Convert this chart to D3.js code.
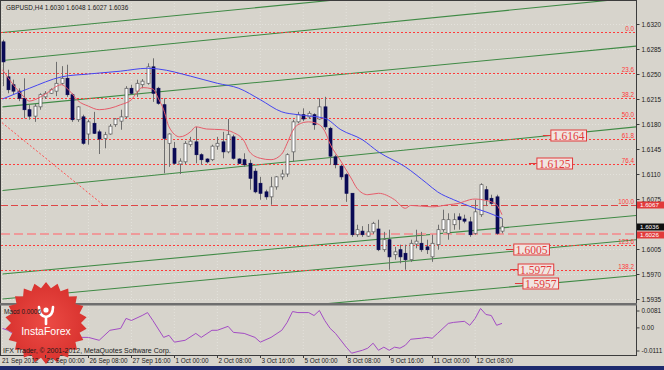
<!DOCTYPE html>
<html><head><meta charset="utf-8">
<script src="https://cdn.jsdelivr.net/npm/d3@7"></script>
<style>body{margin:0;background:#d7d4cc}svg{display:block}</style>
</head><body><svg id="c" width="664" height="370"></svg>
<script>
// ---------- DATA ----------
const symbolTitle = "GBPUSD,H4 1.6030 1.6048 1.6027 1.6036";
const open = [1.6295,1.6246,1.6235,1.6226,1.6216,1.6200,1.6191,1.6204,1.6218,1.6223,
1.6226,1.6237,1.6244,1.6221,1.6186,1.6190,1.6166,1.6181,1.6169,1.6160,
1.6166,1.6179,1.6184,1.6190,1.6230,1.6226,1.6235,1.6237,1.6260,1.6230,
1.6207,1.6153,1.6146,1.6124,1.6127,1.6151,1.6155,1.6137,1.6131,1.6130,
1.6149,1.6155,1.6141,1.6162,1.6131,1.6130,1.6125,1.6114,1.6097,1.6085,
1.6078,1.6092,1.6106,1.6110,1.6141,1.6183,1.6193,1.6190,1.6193,1.6187,
1.6204,1.6174,1.6134,1.6121,1.6109,1.6083,1.6025,1.6030,1.6023,1.6029,
1.6033,1.6004,1.6018,1.5997,1.6004,1.5999,1.5990,1.6012,1.6013,1.6008,
1.5994,1.6011,1.6032,1.6027,1.6039,1.6050,1.6047,1.6043,1.6027,1.6053,
1.6088,1.6076,1.6078,1.6030];
const high = [1.6298,1.6256,1.6242,1.6230,1.6244,1.6207,1.6208,1.6223,1.6226,1.6230,
1.6267,1.6261,1.6263,1.6223,1.6205,1.6193,1.6186,1.6197,1.6172,1.6169,
1.6180,1.6188,1.6200,1.6233,1.6235,1.6242,1.6243,1.6265,1.6272,1.6232,
1.6216,1.6167,1.6155,1.6132,1.6156,1.6162,1.6176,1.6139,1.6132,1.6151,
1.6162,1.6169,1.6187,1.6165,1.6132,1.6139,1.6130,1.6118,1.6106,1.6088,
1.6106,1.6107,1.6116,1.6139,1.6186,1.6197,1.6202,1.6198,1.6195,1.6216,
1.6218,1.6176,1.6137,1.6123,1.6111,1.6083,1.6039,1.6037,1.6040,1.6043,
1.6046,1.6029,1.6032,1.6008,1.6011,1.6011,1.6018,1.6032,1.6029,1.6018,
1.6025,1.6039,1.6060,1.6055,1.6055,1.6055,1.6053,1.6050,1.6074,1.6097,
1.6093,1.6081,1.6081,1.6048];
const low = [1.6233,1.6223,1.6221,1.6212,1.6188,1.6186,1.6183,1.6200,1.6215,1.6222,
1.6219,1.6235,1.6218,1.6183,1.6183,1.6151,1.6151,1.6166,1.6138,1.6146,
1.6165,1.6176,1.6172,1.6188,1.6221,1.6218,1.6230,1.6235,1.6211,1.6207,
1.6111,1.6120,1.6123,1.6110,1.6124,1.6148,1.6125,1.6123,1.6125,1.6128,
1.6144,1.6132,1.6139,1.6130,1.6124,1.6120,1.6088,1.6083,1.6074,1.6074,
1.6067,1.6088,1.6102,1.6106,1.6127,1.6181,1.6184,1.6187,1.6172,1.6186,
1.6172,1.6123,1.6118,1.6102,1.6071,1.6022,1.6022,1.6022,1.6022,1.6026,
1.6002,1.6001,1.5976,1.5990,1.5985,1.5976,1.5987,1.6006,1.6001,1.5998,
1.5987,1.6004,1.6029,1.6018,1.6032,1.6032,1.6041,1.6022,1.6025,1.6050,
1.6065,1.6067,1.6025,1.6027];
const close = [1.6267,1.6228,1.6226,1.6216,1.6200,1.6191,1.6205,1.6221,1.6223,1.6228,
1.6237,1.6244,1.6221,1.6186,1.6204,1.6153,1.6183,1.6167,1.6159,1.6165,
1.6177,1.6187,1.6190,1.6230,1.6223,1.6237,1.6240,1.6260,1.6223,1.6209,
1.6160,1.6166,1.6125,1.6128,1.6153,1.6156,1.6137,1.6130,1.6127,1.6149,
1.6153,1.6141,1.6165,1.6132,1.6125,1.6123,1.6104,1.6085,1.6083,1.6078,
1.6092,1.6106,1.6110,1.6137,1.6183,1.6193,1.6187,1.6195,1.6179,1.6204,
1.6176,1.6135,1.6123,1.6106,1.6083,1.6025,1.6032,1.6025,1.6029,1.6041,
1.6004,1.6018,1.5994,1.6001,1.5994,1.5990,1.6013,1.6016,1.6004,1.6004,
1.6013,1.6032,1.6046,1.6046,1.6046,1.6046,1.6044,1.6025,1.6057,1.6095,
1.6074,1.6069,1.6027,1.6036];

const slowMaBar = [0,5,11,16,22,27,29,35,40,44,48,52,55,60,63,67,70,75,79,81,84,88,90,93];
const slowMaVal = [1.6215,1.6230,1.6246,1.6250,1.6254,1.6258,1.6257,1.6247,1.6237,1.6230,1.6214,1.6197,1.6193,1.6188,1.6172,1.6158,1.6141,1.6120,1.6097,1.6085,1.6074,1.6062,1.6057,1.6048];

const fastMaBar = [0,2,4,5,6,8,11,12,13,14,16,18,20,22,24,25,26,28,29,30,31,33,35,36,38,41,43,45,46,48,50,52,53,54,55,57,59,60,61,63,65,66,68,70,73,75,76,80,83,85,87,88,90,91,92,93];
const fastMaVal = [1.6256,1.6235,1.6218,1.6212,1.6214,1.6222,1.6235,1.6230,1.6222,1.6213,1.6205,1.6200,1.6202,1.6207,1.6214,1.6224,1.6231,1.6229,1.6216,1.6200,1.6176,1.6162,1.6169,1.6176,1.6173,1.6172,1.6168,1.6156,1.6141,1.6132,1.6130,1.6138,1.6153,1.6170,1.6179,1.6183,1.6179,1.6170,1.6152,1.6128,1.6103,1.6090,1.6081,1.6083,1.6074,1.6062,1.6066,1.6064,1.6067,1.6069,1.6074,1.6075,1.6073,1.6071,1.6067,1.6053];

const oscBar = [0,1,3,6,9,12,14,16,18,20,22,23,24,26,27,28,30,31,32,34,36,37,39,40,42,43,45,47,48,50,52,53,54,55,57,58,59,60,61,62,64,65,67,68,69,70,71,72,73,74,75,76,78,79,80,81,83,84,86,87,88,89,90,91,92,93];
const oscVal = [-0.0005,-0.0014,-0.0048,-0.0060,-0.0055,-0.0045,-0.0048,-0.0048,-0.0062,-0.0014,-0.0005,0.0043,0.0033,0.0057,0.0071,0.0033,-0.0048,-0.0038,-0.0071,-0.0062,-0.0029,-0.0048,-0.0014,-0.0014,0.0005,-0.0024,-0.0029,-0.0048,-0.0071,-0.0048,-0.0014,0.0024,0.0076,0.0071,0.0071,0.0057,0.0081,0.0033,-0.0005,-0.0029,-0.0095,-0.0124,-0.0110,-0.0100,-0.0076,-0.0110,-0.0095,-0.0110,-0.0095,-0.0100,-0.0086,-0.0057,-0.0052,-0.0048,-0.0052,-0.0029,0.0019,0.0024,0.0029,0.0010,0.0043,0.0091,0.0062,0.0057,0.0010,0.0019];

const timeLabels = ["21 Sep 2012","25 Sep 00:00","26 Sep 08:00","27 Sep 16:00","1 Oct 00:00","2 Oct 08:00","3 Oct 16:00","5 Oct 00:00","8 Oct 08:00","9 Oct 16:00","11 Oct 00:00","12 Oct 08:00"];
const timeLabelBars = [0,8,16,24,32,40,48,56,64,72,80,88];
const priceTicks = [1.6320,1.6285,1.6250,1.6215,1.6180,1.6145,1.6110,1.6075,1.6005,1.5970,1.5935];
const oscTicks = [0.0081,0.0000,-0.0111];
const oscTickText = ["0.0081","0.00","-0.0111"];

const fibNames = ["0.0","23.6","38.2","50.0","61.8","76.4","100.0","123.6","138.2"];
const fibPrices = [1.6309,1.6252,1.6217,1.6188,1.6159,1.6124,1.6067,1.6010,1.5975];
const fibDiagonal = [[-20.9,1.6309],[18.7,1.6067]];
const channelLines = [
  [0,1.6308,118,1.6395],
  [0,1.6269,118,1.6357],
  [0,1.6204,118,1.6289],
  [0,1.6087,118,1.6176],
  [0,1.5970,118,1.6052],
  [0,1.5935,118,1.6018],
  [0,1.5887,118,1.5968]
];
const targetPrices = [1.6164,1.6125,1.6005,1.5977,1.5957];
const targetBars = [102.1,99.5,95.2,96.0,96.9];
const pinkLinePrice = 1.6026;
const axisBoxPrices = [1.6067,1.6036,1.6026];
const axisBoxColors = ["#e23a3a","#101010","#e23a3a"];
const oscName = "Macd 0.0006";

// ---------- DRAW ----------
const svg = d3.select("#c");
const W = 664, H = 370;
const PL = 1, PR = 636, PT = 1, PB = 303, IT = 306, IB = 355;
const x = d3.scaleLinear().domain([0, 93]).range([2.5, 502]);
const y = d3.scaleLinear().domain([1.5935, 1.6320]).range([299, 24]);
const yi = d3.scaleLinear().domain([-0.0111, 0.0081]).range([350.5, 310.5]);
const FONT = "'Liberation Sans', Arial, sans-serif";

svg.append("rect").attr("width", W).attr("height", H).attr("fill", "#d7d4cc");
const defs = svg.append("defs");
defs.append("clipPath").attr("id", "cm").append("rect").attr("x", PL).attr("y", PT).attr("width", PR - PL).attr("height", PB - PT);
defs.append("clipPath").attr("id", "ci").append("rect").attr("x", PL).attr("y", IT).attr("width", PR - PL).attr("height", IB - IT);

const gm = svg.append("g").attr("clip-path", "url(#cm)");
const gi = svg.append("g").attr("clip-path", "url(#ci)");

// faint grid
timeLabelBars.forEach(b => {
  [gm, gi].forEach(g => g.append("line").attr("x1", x(b)).attr("x2", x(b)).attr("y1", 0).attr("y2", H)
    .attr("stroke", "#e4e2dc").attr("stroke-width", 1).attr("stroke-dasharray", "1,2"));
});
priceTicks.forEach(p => gm.append("line").attr("x1", PL).attr("x2", PR).attr("y1", Math.round(y(p)) + 0.5).attr("y2", Math.round(y(p)) + 0.5)
  .attr("stroke", "#e4e2dc").attr("stroke-dasharray", "1,2"));

// channel lines
channelLines.forEach(c => gm.append("line")
  .attr("x1", x(c[0])).attr("y1", y(c[1])).attr("x2", x(c[2])).attr("y2", y(c[3]))
  .attr("stroke", "#3f8a45").attr("stroke-width", 1.1));

// fib levels
fibPrices.forEach((p, i) => {
  const yy = Math.round(y(p)) + 0.5;
  const isHundred = fibNames[i] === "100.0";
  gm.append("line").attr("x1", PL).attr("x2", PR).attr("y1", yy).attr("y2", yy)
    .attr("stroke", isHundred ? "#dd4646" : "#ff3a3a").attr("stroke-width", 1)
    .attr("stroke-dasharray", isHundred ? "7,3" : "2,2");
  svg.append("text").attr("x", 634).attr("y", yy - 1.5).attr("text-anchor", "end")
    .attr("font-family", FONT).attr("font-size", 6.3).attr("fill", "#ff3a3a").text(fibNames[i]);
});
gm.append("line").attr("x1", x(fibDiagonal[0][0])).attr("y1", y(fibDiagonal[0][1]))
  .attr("x2", x(fibDiagonal[1][0])).attr("y2", y(fibDiagonal[1][1]))
  .attr("stroke", "#ff5050").attr("stroke-dasharray", "2,2");
gm.append("line").attr("x1", PL).attr("x2", PR).attr("y1", y(pinkLinePrice)).attr("y2", y(pinkLinePrice))
  .attr("stroke", "#ee9a9a").attr("stroke-width", 2).attr("stroke-dasharray", "9,4");

// candles
const bars = d3.range(open.length).map(i => ({i, o: open[i], h: high[i], l: low[i], c: close[i]}));
const cg = gm.append("g");
cg.selectAll("line.w").data(bars).join("line")
  .attr("x1", d => Math.round(x(d.i)) + 0.5).attr("x2", d => Math.round(x(d.i)) + 0.5)
  .attr("y1", d => y(d.h)).attr("y2", d => y(d.l))
  .attr("stroke", "#6e6e6e").attr("stroke-width", 1);
cg.selectAll("rect.b").data(bars).join("rect")
  .attr("x", d => Math.round(x(d.i)) - 1)
  .attr("y", d => y(Math.max(d.o, d.c)))
  .attr("width", 3)
  .attr("height", d => Math.max(1, Math.abs(y(d.o) - y(d.c))))
  .attr("fill", d => d.c >= d.o ? "#ffffff" : "#0a0a55")
  .attr("stroke", d => d.c >= d.o ? "#555555" : "#0a0a55").attr("stroke-width", 0.7);

// moving averages
const lineGen = d3.line().x(d => x(d[0])).y(d => y(d[1])).curve(d3.curveMonotoneX);
gm.append("path").attr("d", lineGen(slowMaBar.map((b, i) => [b, slowMaVal[i]])))
  .attr("fill", "none").attr("stroke", "#4545f0").attr("stroke-width", 1);
gm.append("path").attr("d", lineGen(fastMaBar.map((b, i) => [b, fastMaVal[i]])))
  .attr("fill", "none").attr("stroke", "#e65c6a").attr("stroke-width", 1);

// target labels
const tg = gm.append("g");
targetPrices.forEach((p, i) => {
  const yy = Math.round(y(p)) + 0.5;
  const bx = x(targetBars[i]);
  tg.append("line").attr("x1", bx - 8).attr("x2", bx).attr("y1", yy).attr("y2", yy).attr("stroke", "#e23a3a");
  const r = tg.append("rect");
  const t = tg.append("text").attr("x", bx + 2).attr("y", yy + 4).attr("font-family", "'Liberation Serif', 'Times New Roman', serif")
    .attr("font-size", 11.5).attr("fill", "#e23a3a").text(p.toFixed(4));
  const w = t.node().getComputedTextLength();
  r.attr("x", bx).attr("y", yy - 5.5).attr("width", w + 4).attr("height", 11)
    .attr("fill", "#f1e4e0").attr("stroke", "#e23a3a").attr("stroke-width", 1);
});

// frames
svg.append("line").attr("x1", 0).attr("x2", PR).attr("y1", 0.5).attr("y2", 0.5).attr("stroke", "#3c3c3c");
svg.append("line").attr("x1", 0.5).attr("x2", 0.5).attr("y1", 0).attr("y2", IB).attr("stroke", "#3c3c3c");
svg.append("line").attr("x1", PR + 0.5).attr("x2", PR + 0.5).attr("y1", 0).attr("y2", IB).attr("stroke", "#3c3c3c");
svg.append("rect").attr("x", 0).attr("y", PB).attr("width", PR + 1).attr("height", 2.5).attr("fill", "#6e6e6e");
svg.append("line").attr("x1", 0).attr("x2", PR + 1).attr("y1", IB + 0.5).attr("y2", IB + 0.5).attr("stroke", "#3c3c3c");
svg.append("rect").attr("x", 0).attr("y", 366).attr("width", W).attr("height", 4).attr("fill", "#1d2a6e");

// price axis
const ax = svg.append("g").attr("transform", `translate(${PR + 0.5},0)`)
  .call(d3.axisRight(y).tickValues(priceTicks).tickFormat(d3.format(".4f")).tickSize(3).tickPadding(2));
ax.select(".domain").remove();
ax.selectAll("line").attr("stroke", "#3c3c3c");
ax.selectAll("text").attr("font-family", FONT).attr("font-size", 6.4).attr("fill", "#1a1a1a");

// axis boxes (current price markers)
axisBoxPrices.forEach((p, i) => {
  const yy = Math.round(y(p));
  const top = i === 2 ? yy - 2.5 : yy - 3.5;
  svg.append("rect").attr("x", PR + 1).attr("y", top).attr("width", W - PR - 1).attr("height", 7).attr("fill", axisBoxColors[i]);
  svg.append("text").attr("x", PR + 4).attr("y", top + 5.6).attr("font-family", FONT).attr("font-size", 6.2)
    .attr("fill", "#ffffff").text(p.toFixed(4));
});

// oscillator
gi.append("path").attr("d", d3.line().x(d => x(d[0])).y(d => yi(d[1]))(oscBar.map((b, i) => [b, oscVal[i]])))
  .attr("fill", "none").attr("stroke", "#a34cc4").attr("stroke-width", 1);
const ai = svg.append("g").attr("transform", `translate(${PR + 0.5},0)`)
  .call(d3.axisRight(yi).tickValues(oscTicks).tickFormat((d, i) => oscTickText[i]).tickSize(3).tickPadding(2));
ai.select(".domain").remove();
ai.selectAll("line").attr("stroke", "#3c3c3c");
ai.selectAll("text").attr("font-family", FONT).attr("font-size", 6.4).attr("fill", "#1a1a1a");

// InstaForex badge
const cx = 46, cy = 323, nPts = 22;
const star = d3.range(nPts * 2).map(k => {
  const a = Math.PI * k / nPts - Math.PI / 2;
  const r = k % 2 === 0 ? 41 : 35;
  return [cx + r * Math.cos(a), cy + r * Math.sin(a)];
});
const grad = defs.append("radialGradient").attr("id", "bg");
grad.append("stop").attr("offset", "0%").attr("stop-color", "#ec4b45");
grad.append("stop").attr("offset", "100%").attr("stop-color", "#d9332f");
svg.append("path").attr("d", d3.line()(star) + "Z").attr("fill", "url(#bg)");
const ic = svg.append("g").attr("fill", "none").attr("stroke", "#ffffff").attr("stroke-width", 2.6).attr("stroke-linecap", "round");
ic.append("path").attr("d", `M${cx - 7},${cy - 16} Q${cx - 7},${cy - 7} ${cx},${cy - 6} Q${cx + 7},${cy - 7} ${cx + 7},${cy - 16}`);
ic.append("path").attr("d", `M${cx},${cy - 6} L${cx},${cy + 1}`);
svg.append("circle").attr("cx", cx).attr("cy", cy - 13).attr("r", 2.6).attr("fill", "#ffffff");
svg.append("text").attr("x", cx).attr("y", cy + 12).attr("text-anchor", "middle").attr("font-family", FONT)
  .attr("font-size", 10.5).attr("fill", "#ffffff").text("InstaForex");

// texts
svg.append("text").attr("x", 6).attr("y", 10).attr("font-family", FONT).attr("font-size", 6.4).attr("fill", "#1a1a1a").text(symbolTitle);
svg.append("text").attr("x", 4).attr("y", 314).attr("font-family", FONT).attr("font-size", 6.4).attr("fill", "#1a1a1a").text(oscName);
svg.append("text").attr("x", 3).attr("y", 353).attr("font-family", FONT).attr("font-size", 7).attr("fill", "#1a1a1a")
  .text("IFX Trader, © 2001-2012, MetaQuotes Software Corp.");
timeLabels.forEach((t, i) => {
  const xx = Math.round(x(timeLabelBars[i])) + 0.5;
  if (i > 0) svg.append("line").attr("x1", xx).attr("x2", xx).attr("y1", IB).attr("y2", IB + 3).attr("stroke", "#3c3c3c");
  svg.append("text").attr("x", i === 0 ? 2 : xx + 1).attr("y", 363).attr("font-family", FONT).attr("font-size", 6.4)
    .attr("fill", "#1a1a1a").text(t);
});
</script></body></html>
